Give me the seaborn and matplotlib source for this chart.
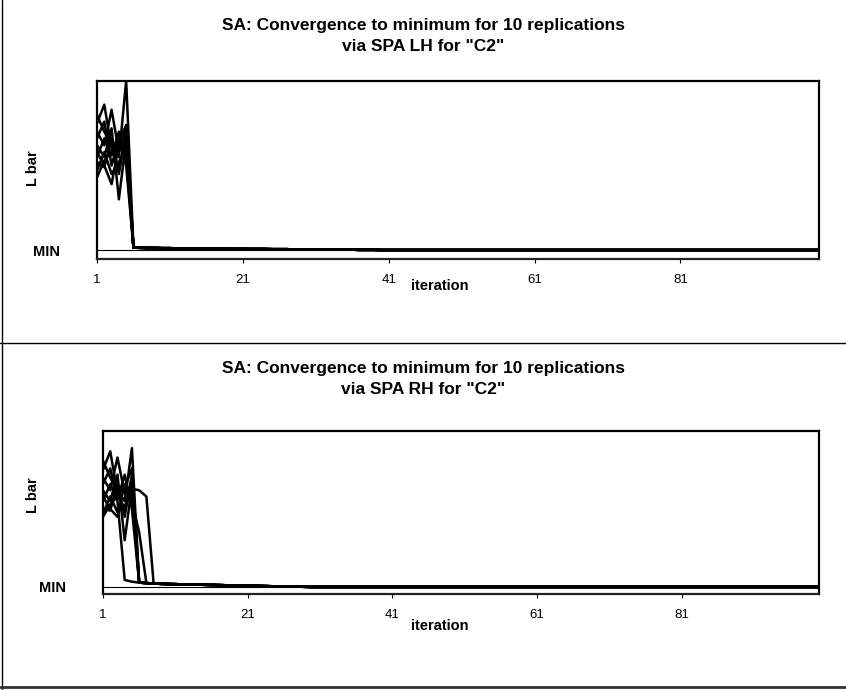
import numpy as np
import pandas as pd
import matplotlib
matplotlib.use("Agg")
import matplotlib.pyplot as plt
from matplotlib.lines import Line2D
import seaborn as sns

# ---------------- data ----------------
iterations = list(range(1, 101))
x_ticks = [1, 21, 41, 61, 81]
MIN_VALUE = 0.0

# Top panel (SPA LH): values for iterations 1-5, then all drop at iteration 6
top_heads = [
    [0.80, 0.70, 0.62, 0.55, 1.00],
    [0.75, 0.86, 0.60, 0.48, 0.68],
    [0.70, 0.62, 0.83, 0.58, 0.72],
    [0.66, 0.76, 0.50, 0.66, 0.60],
    [0.62, 0.55, 0.72, 0.30, 0.65],
    [0.58, 0.50, 0.39, 0.62, 0.55],
    [0.55, 0.66, 0.56, 0.70, 0.50],
    [0.52, 0.49, 0.66, 0.45, 0.70],
    [0.47, 0.58, 0.45, 0.52, 0.62],
    [0.43, 0.53, 0.58, 0.64, 0.74],
]
# near-minimum tail, iterations 6..40
top_tail = [0.014, 0.013, 0.012, 0.012, 0.011, 0.011, 0.010, 0.010, 0.009, 0.009,
            0.008, 0.008, 0.008, 0.007, 0.007, 0.007, 0.006, 0.006, 0.006, 0.005,
            0.005, 0.005, 0.004, 0.004, 0.004, 0.003, 0.003, 0.003, 0.002, 0.002,
            0.002, 0.001, 0.001, 0.001, 0.000]
top_tail_start = 6

# Bottom panel (SPA RH): heads of different lengths
bottom_heads = [
    [0.81, 0.70, 0.62, 0.55, 0.89],
    [0.75, 0.87, 0.60, 0.50, 0.70],
    [0.70, 0.62, 0.83, 0.60, 0.63, 0.62, 0.58],
    [0.66, 0.76, 0.55],
    [0.62, 0.55, 0.72, 0.30, 0.65],
    [0.58, 0.50, 0.45, 0.66, 0.55, 0.35],
    [0.55, 0.66, 0.56, 0.72, 0.50],
    [0.50, 0.49, 0.66, 0.45, 0.72],
    [0.47, 0.58, 0.48, 0.52, 0.60],
    [0.45, 0.53, 0.58, 0.64, 0.76],
]
# near-minimum tail, iterations 4..30
bottom_tail = [0.045, 0.034, 0.028, 0.025, 0.022, 0.020, 0.019, 0.018, 0.017,
               0.016, 0.015, 0.014, 0.013, 0.012, 0.011, 0.010, 0.009, 0.008,
               0.007, 0.006, 0.005, 0.004, 0.003, 0.003, 0.002, 0.001, 0.000]
bottom_tail_start = 4

titles = ['SA: Convergence to minimum for 10 replications\nvia SPA LH for "C2"',
          'SA: Convergence to minimum for 10 replications\nvia SPA RH for "C2"']


def build(heads, tail, tail_start):
    rows = []
    for r, head in enumerate(heads):
        for it in iterations:
            if it <= len(head):
                v = head[it - 1]
            else:
                k = it - tail_start
                v = tail[k] if k < len(tail) else MIN_VALUE
            rows.append((r + 1, it, v))
    return pd.DataFrame(rows, columns=["rep", "iteration", "L bar"])


df_top = build(top_heads, top_tail, top_tail_start)
df_bot = build(bottom_heads, bottom_tail, bottom_tail_start)

# ---------------- plot ----------------
sns.set_style("white")
plt.rcParams['font.family'] = ['Liberation Sans', 'DejaVu Sans']
plt.rcParams['text.color'] = 'black'
plt.rcParams['xtick.color'] = 'black'
plt.rcParams['ytick.color'] = 'black'
plt.rcParams['axes.labelcolor'] = 'black'

W, H = 846, 690
fig = plt.figure(figsize=(W / 100, H / 100), dpi=100)


def px_axes(l, t, r, b):
    return fig.add_axes([l / W, 1 - b / H, (r - l) / W, (b - t) / H])


panels = [
    dict(df=df_top, box=(97, 81, 819, 259), ylow=-0.053, title_y=36,
         xl_y=286, tl_pad=8, yl_y=168),
    dict(df=df_bot, box=(103, 431, 819, 594), ylow=-0.045, title_y=379,
         xl_y=626, tl_pad=8, yl_y=495),
]

for p, title in zip(panels, titles):
    ax = px_axes(*p["box"])
    ax.axhline(MIN_VALUE, color="black", lw=0.8, zorder=1)
    sns.lineplot(data=p["df"], x="iteration", y="L bar", units="rep",
                 estimator=None, color="black", lw=1.8, ax=ax, legend=False,
                 zorder=2)
    ax.set_xlim(1, 100)
    ax.set_ylim(p["ylow"], 1.0)
    ax.set_xticks(x_ticks)
    ax.set_xticklabels([str(t) for t in x_ticks], fontsize=9.5)
    ax.set_yticks([MIN_VALUE])
    ax.set_yticklabels(["MIN"], fontsize=10.5, fontweight="bold")
    ax.tick_params(axis="x", length=3, width=0.8, direction="out",
                   bottom=True, pad=p["tl_pad"])
    ax.tick_params(axis="y", length=0, pad=27)
    ax.set_xlabel("")
    ax.set_ylabel("")
    for s in ax.spines.values():
        s.set_visible(True)
        s.set_color("black")
        s.set_linewidth(1.6)
    ax.spines["bottom"].set_color("#222222")
    # x label
    fig.text(440 / W, 1 - p["xl_y"] / H, "iteration", ha="center", va="center",
             fontsize=10.5, fontweight="bold")
    # y label
    fig.text(33 / W, 1 - p["yl_y"] / H, "L bar", ha="center", va="center",
             rotation=90, fontsize=10.5, fontweight="bold")
    # title
    fig.text(423 / W, 1 - p["title_y"] / H, title, ha="center", va="center",
             fontsize=12.5, fontweight="bold", linespacing=1.55)

# frame lines of the two chart boxes
fig.add_artist(Line2D([1.5 / W, 1.5 / W], [0, 1], transform=fig.transFigure,
                      color="black", lw=1.0))
fig.add_artist(Line2D([0, 1], [1 - 343 / H, 1 - 343 / H], transform=fig.transFigure,
                      color="black", lw=1.0))
fig.add_artist(Line2D([0, 1], [1 - 687 / H, 1 - 687 / H], transform=fig.transFigure,
                      color="#333333", lw=2.0))

fig.savefig("out.png", dpi=100)
